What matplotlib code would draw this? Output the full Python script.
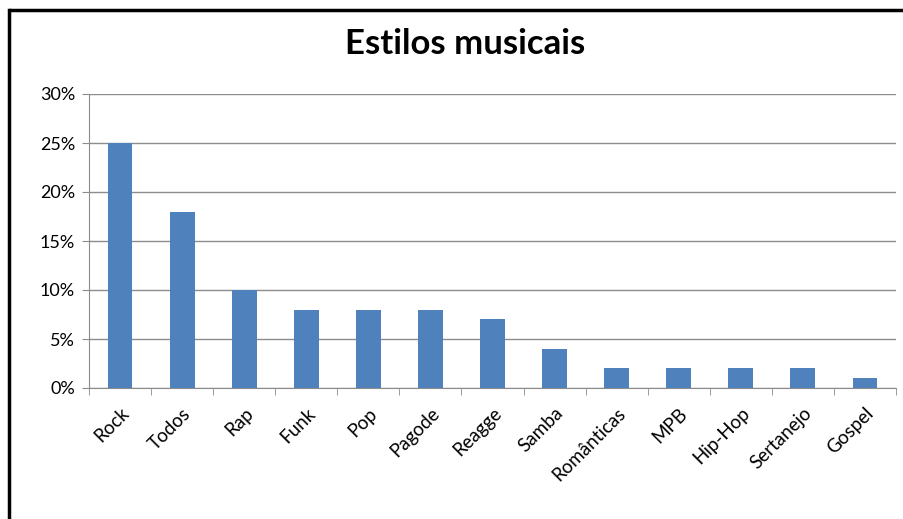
import numpy as np
import matplotlib.pyplot as plt
from matplotlib.lines import Line2D
from matplotlib.ticker import FuncFormatter

estilos = ['Rock', 'Todos', 'Rap', 'Funk', 'Pop', 'Pagode', 'Reagge', 'Samba',
           'Românticas', 'MPB', 'Hip-Hop', 'Sertanejo', 'Gospel']
percentuais = [25, 18, 10, 8, 8, 8, 7, 4, 2, 2, 2, 2, 1]
yticks = [0, 5, 10, 15, 20, 25, 30]

plt.rcParams['font.family'] = ['Lato', 'DejaVu Sans']

fig = plt.figure(figsize=(9.04, 5.19), dpi=100)
fig.patch.set_facecolor('white')
ax = fig.add_axes([89/904, 1 - 388/519, (896 - 89)/904, (388 - 94)/519])

x = np.arange(len(estilos))
ax.bar(x, percentuais, width=0.4, color='#4f81bd', zorder=3)

ax.set_xlim(-0.5, len(estilos) - 0.5)
ax.set_ylim(0, 30)
ax.set_yticks(yticks)
ax.yaxis.set_major_formatter(FuncFormatter(lambda v, p: f'{v:.0f}%'))
ax.grid(axis='y', color='#8c8c8c', linewidth=1, zorder=0)

ax.set_xticks(x)
ax.set_xticklabels(estilos, rotation=45, ha='right', rotation_mode='anchor', fontsize=13.5)
ax.set_xticks(np.arange(-0.5, len(estilos)), minor=True)
ax.tick_params(axis='x', which='major', length=0, pad=12)
ax.tick_params(axis='x', which='minor', length=5, color='#8c8c8c', direction='out')
ax.tick_params(axis='y', length=5, color='#8c8c8c', labelsize=13, pad=5)

for s in ['top', 'right']:
    ax.spines[s].set_visible(False)
for s in ['left', 'bottom']:
    ax.spines[s].set_color('#8c8c8c')

fig.text(465/904, 1 - 44/519, 'Estilos musicais', ha='center', va='center',
         fontsize=25, fontweight='bold')

# moldura do gráfico: só as bordas superior e esquerda aparecem
topo = 1 - 10/519
esq = 9/904
fig.add_artist(Line2D([esq, 1.05], [topo, topo], transform=fig.transFigure,
                      color='black', linewidth=2.5, solid_capstyle='butt'))
fig.add_artist(Line2D([esq, esq], [-0.05, topo], transform=fig.transFigure,
                      color='black', linewidth=2.5, solid_capstyle='projecting'))

fig.savefig('out.png', dpi=100)
